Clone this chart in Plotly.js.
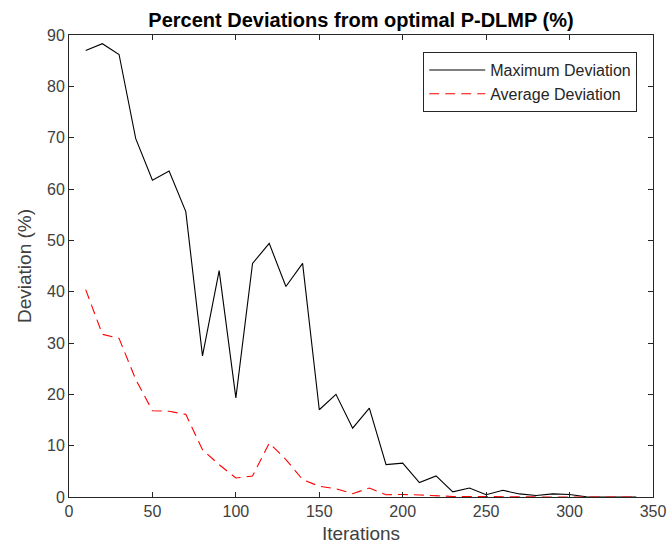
<!DOCTYPE html>
<html><head><meta charset="utf-8">
<script src="https://cdn.plot.ly/plotly-3.0.1.min.js"></script>
<style>html,body{margin:0;padding:0;background:#fff}#chart{width:670px;height:552px}</style>
</head><body><div id="chart"></div>
<script>
var iterations = [10,20,30,40,50,60,70,80,90,100,110,120,130,140,150,160,170,180,190,200,210,220,230,240,250,260,270,280,290,300,310,320,330,340];
var maxDeviation = [87.0,88.3,86.2,69.8,61.7,63.5,55.6,27.5,44.1,19.3,45.5,49.4,41.0,45.5,17.0,20.0,13.4,17.3,6.3,6.6,2.8,4.1,1.0,1.75,0.45,1.3,0.6,0.3,0.6,0.5,0.05,0,0,0];
var avgDeviation = [40.4,31.7,30.9,22.9,16.8,16.7,16.1,9.2,6.3,3.7,4.1,10.5,7.3,3.4,2.1,1.6,0.65,1.75,0.45,0.5,0.4,0.2,0.1,0.1,0.05,0.05,0.05,0,0,0,0,0,0,0];
var xTicks = [0,50,100,150,200,250,300,350];
var yTicks = [0,10,20,30,40,50,60,70,80,90];

var FONT = 'Liberation Sans, Arial, sans-serif';
var traces = [
  {x: iterations, y: maxDeviation, type: 'scatter', mode: 'lines', name: 'Maximum Deviation',
   line: {color: '#000000', width: 1.1}},
  {x: iterations, y: avgDeviation, type: 'scatter', mode: 'lines', name: 'Average Deviation',
   line: {color: '#ff0000', width: 1.1, dash: '10px,6px'}}
];
var axisCommon = {
  showgrid: false, zeroline: false, showline: true, linecolor: '#262626', linewidth: 1,
  mirror: 'ticks', ticks: 'inside', ticklen: 5, tickcolor: '#262626',
  tickfont: {family: FONT, size: 16, color: '#404040'}
};
var layout = {
  width: 670, height: 552,
  margin: {l: 69, r: 17, t: 35, b: 55},
  paper_bgcolor: '#ffffff', plot_bgcolor: '#ffffff',
  title: {text: '<b>Percent Deviations from optimal P-DLMP (%)</b>', xref: 'paper', x: 0.5, xanchor: 'center',
    y: 0.963, yanchor: 'middle',
    font: {family: FONT, size: 20, color: '#000000'}},
  xaxis: Object.assign({}, axisCommon, {range: [0, 350], tickvals: xTicks,
    title: {text: 'Iterations', standoff: 7, font: {family: FONT, size: 19, color: '#404040'}}}),
  yaxis: Object.assign({}, axisCommon, {range: [0, 90], tickvals: yTicks,
    title: {text: 'Deviation (%)', standoff: 10, font: {family: FONT, size: 19, color: '#404040'}}}),
  showlegend: true,
  legend: {x: 0.973, xanchor: 'right', y: 0.963, yanchor: 'top', bgcolor: '#ffffff',
    bordercolor: '#262626', borderwidth: 1,
    font: {family: FONT, size: 16, color: '#262626'},
    tracegroupgap: 0, itemwidth: 56}
};
Plotly.newPlot('chart', traces, layout, {displayModeBar: false, staticPlot: true});
</script></body></html>
